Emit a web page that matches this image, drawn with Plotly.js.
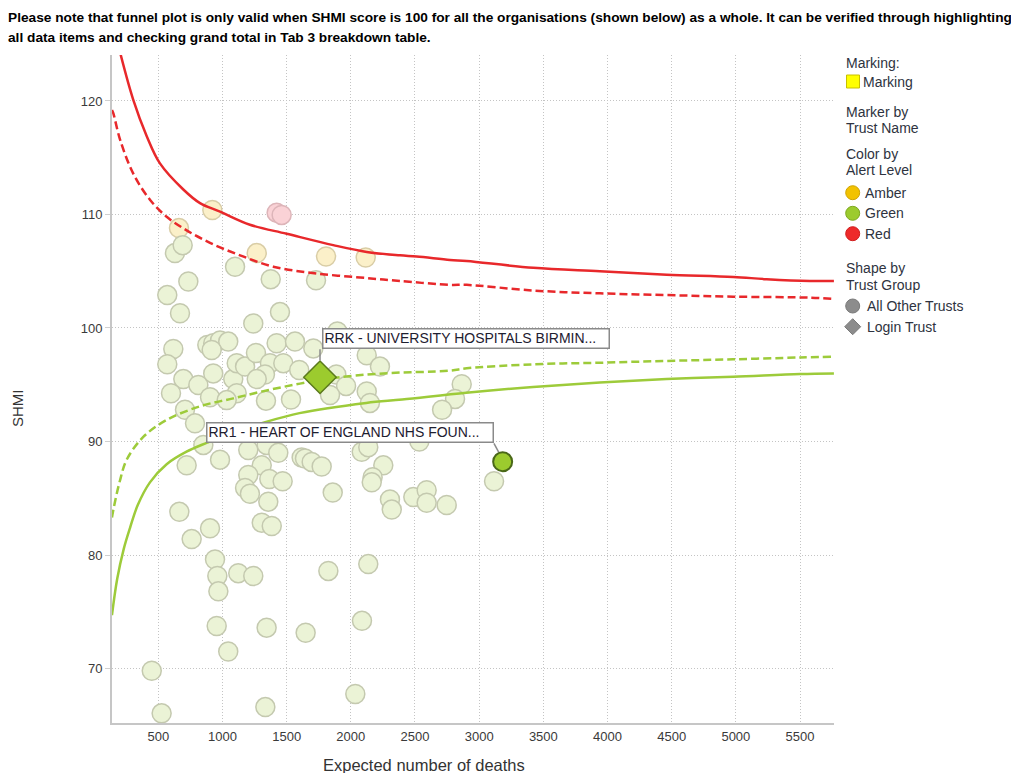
<!DOCTYPE html>
<html><head><meta charset="utf-8">
<script src="https://cdn.plot.ly/plotly-3.0.1.min.js"></script>
<style>html,body{margin:0;padding:0;background:#fff;} #chart{width:1011px;height:773px;}</style>
</head><body><div id="chart"></div>
<script>
// ---- Data ----
const trustE = [921,661,1267,1807,2116, 1422,1461,
 630,690,1098,1376,1729,734,570,669,1448,1240,1895,617,570,882,928,981,1045,916,695,812,928,599,903,
 1084,1111,1176,1261,1370,1422,1565,1474,1331,1598,1267,1111,1339,1534,1033,708,1708,2124,2227,1887,
 1963,1838,2124,2149,2864,2812,2711,786,851,721,981,1201,1344,1435,1306,1617,1201,1365,1469,1176,
 1214,1357,1306,1384,664,903,760,942,960,968,1123,1240,955,1045,1344,1648,1825,2136,2087,449,
 526,1334,2035,2534,2085,2136,1643,1695,1773,2253,2170,2163,1859,2305,2319,2487,2591,2591,2747,3116];
const trustSHMI = [110.4,108.8,106.6,106.3,106.2, 110.16,109.96,
 106.6,107.3,105.4,104.3,104.2,104.1,102.9,101.3,101.4,100.4,99.7,98.15,96.8,98.5,98.65,98.9,98.8,98.06,95.5,94.98,96.0,94.25,93.9,
 95.5,96.9,96.6,97.8,96.9,98.65,98.8,96.9,95.9,96.3,95.5,94.25,93.6,93.7,93.65,92.8,98.2,97.6,96.6,95.9,
 94.9,94.1,94.4,93.4,95.04,93.75,92.8,91.6,89.7,87.9,88.4,89.25,89.7,89.0,87.9,88.6,87.05,86.7,86.5,85.9,
 85.4,84.7,82.85,82.55,83.8,82.35,81.4,79.6,78.15,76.8,78.4,78.15,73.75,71.5,73.6,73.15,78.6,79.2,74.2,69.8,
 66.05,66.6,67.75,90.0,89.1,89.5,88.5,88.2,87.8,87.9,86.85,86.4,85.5,84.9,84.0,85.1,85.7,84.6,84.4,86.5];
const trustAlert = ['Amber','Amber','Amber','Amber','Amber','Red','Red'];
while (trustAlert.length < trustE.length) trustAlert.push('Green');

const loginE = [1760], loginSHMI = [95.66], loginLabel = ['RRK - UNIVERSITY HOSPITALS BIRMIN...'];
const markedE = [3183], markedSHMI = [88.22], markedLabel = ['RR1 - HEART OF ENGLAND NHS FOUN...'];

// control limits
const upper998E = [195,305,410,513,695,825,981,1214,1500,1863,2124,2383,2513,2773,2903,3422,3941,4461,4980,5240,5577,5764];
const upper998S = [124.6,120.1,116.9,114.5,112.2,111.0,110.25,109.1,108.3,107.3,106.7,106.4,106.3,106.0,105.9,105.3,105.0,104.7,104.5,104.3,104.14,104.14];
const upper95E = [139,150,202,305,435,565,721,903,1137,1396,1734,2124,2383,2773,2903,3422,3941,4461,4980,5577,5764];
const upper95S = [119.2,118.9,116.6,113.6,111.3,109.8,108.6,107.5,106.4,105.4,104.8,104.4,104.14,103.8,103.8,103.3,103.05,102.9,102.76,102.67,102.55];
const lower95E = [139,150,200,254,383,565,825,1084,1344,1604,1863,2253,2773,2903,3422,3941,4461,4980,5500,5764];
const lower95S = [83.3,84.0,86.5,88.4,90.4,91.9,93.1,93.8,94.5,95.1,95.6,96.0,96.24,96.45,96.8,96.94,97.1,97.24,97.4,97.47];
const lower998E = [139,180,230,280,340,435,565,720,880,1100,1300,1600,2120,2400,2900,3420,3940,4460,4980,5500,5764];
const lower998S = [74.7,77.9,80.5,82.4,84.4,86.4,88.0,89.1,89.9,90.9,91.6,92.5,93.4,93.7,94.3,94.8,95.2,95.5,95.7,95.95,96.0];

const xTicks = [500,1000,1500,2000,2500,3000,3500,4000,4500,5000,5500];
const yTicks = [70,80,90,100,110,120];

// ---- styling ----
const FONT = 'Liberation Sans, Arial, sans-serif';
const fadedFill = {Amber:'#FBF0C9', Green:'#EBF3D6', Red:'#FAD2D6'};
const fadedLine = {Amber:'#D9CDA6', Green:'#C4C9AF', Red:'#DDB5B9'};
const RED = '#E8282B', GREEN = '#9DCB3A';

const L = 112, R = 177, T = 55, B = 50, W = 1011 - L - R, H = 773 - T - B;
const px = x => (x - L) / W;
const py = y => (773 - B - y) / H;

const traces = [
  {type:'scatter', mode:'markers', x:trustE, y:trustSHMI, hoverinfo:'skip', showlegend:false,
   marker:{size:19, color:trustAlert.map(a=>fadedFill[a]), line:{width:1.5, color:trustAlert.map(a=>fadedLine[a])}}},
  {type:'scatter', mode:'lines', x:upper998E, y:upper998S, line:{color:RED, width:2.5, shape:'spline', smoothing:1}, showlegend:false, hoverinfo:'skip'},
  {type:'scatter', mode:'lines', x:upper95E, y:upper95S, line:{color:RED, width:2.5, dash:'8px,4px', shape:'spline', smoothing:1}, showlegend:false, hoverinfo:'skip'},
  {type:'scatter', mode:'lines', x:lower95E, y:lower95S, line:{color:GREEN, width:2.5, dash:'8px,4px', shape:'spline', smoothing:1}, showlegend:false, hoverinfo:'skip'},
  {type:'scatter', mode:'lines', x:lower998E, y:lower998S, line:{color:GREEN, width:2.5, shape:'spline', smoothing:1}, showlegend:false, hoverinfo:'skip'},
  {type:'scatter', mode:'markers', x:loginE, y:loginSHMI, showlegend:false, hoverinfo:'skip',
   marker:{symbol:'diamond', size:25, color:'#9CCB2E', line:{width:1.5, color:'#5B7A1C'}}},
  {type:'scatter', mode:'markers', x:markedE, y:markedSHMI, showlegend:false, hoverinfo:'skip',
   marker:{size:19, color:'#9CCB2E', line:{width:2, color:'#4A6818'}}}
];

const annotations = [];
const shapes = [];
function txt(text, x, y, size, opts) {
  annotations.push(Object.assign({text:text, xref:'paper', yref:'paper', x:px(x), y:py(y),
    xanchor:'left', yanchor:'middle', showarrow:false, borderpad:0,
    font:{family:FONT, size:size, color:'#333'}}, opts||{}));
}
const TITLEFONT = {family:'Liberation Sans Narrow, Arial Narrow, sans-serif', size:13.7, color:'#000'};
// title lines
txt('<b>Please note that funnel plot is only valid when SHMI score is 100 for all the organisations (shown below) as a whole. It can be verified through highlighting</b>', 7, 18, 13.7, {font:TITLEFONT});
txt('<b>all data items and checking grand total in Tab 3 breakdown table.</b>', 7, 37, 13.7, {font:TITLEFONT});
// axis titles
txt('Expected number of deaths', 424, 765, 16.5, {xanchor:'center', font:{family:FONT, size:16.5, color:'#333'}});
txt('SHMI', 18, 408, 15, {xanchor:'center', textangle:-90, font:{family:FONT, size:15, color:'#333'}});
// legend texts
const legendText = [
  ['Marking:',845,63],['Marking',862,81.7],['Marker by',845,111.7],['Trust Name',845,128.3],
  ['Color by',845,154],['Alert Level',845,170],['Amber',864,192.7],['Green',864,213.3],['Red',864,233.7],
  ['Shape by',845,268.3],['Trust Group',845,285],['All Other Trusts',865.5,306],['Login Trust',866,326.7]
];
legendText.forEach(t => txt(t[0], t[1], t[2], 14, {font:{family:FONT, size:14, color:'#2E3340'}}));

// legend glyphs
shapes.push({type:'rect', xref:'paper', yref:'paper', x0:px(846.5), x1:px(859.5), y0:py(88), y1:py(75),
  fillcolor:'#FFFF00', line:{color:'#C8C000', width:1}});
[['#F2C200','#D0A400',192.7],['#9CCB2E','#7EA820',213.3],['#EE2A2A','#D01C1C',233.7],['#8C8C8C','#7A7A7A',306]].forEach(c => {
  shapes.push({type:'circle', xref:'paper', yref:'paper', xsizemode:'pixel', ysizemode:'pixel',
    xanchor:px(852.7), yanchor:py(c[2]), x0:-7, x1:7, y0:-7, y1:7,
    fillcolor:c[0], line:{color:c[1], width:1}});
});
shapes.push({type:'path', xref:'paper', yref:'paper', xsizemode:'pixel', ysizemode:'pixel',
  xanchor:px(852.7), yanchor:py(326.7), path:'M -8 0 L 0 8 L 8 0 L 0 -8 Z',
  fillcolor:'#8C8C8C', line:{color:'#7A7A7A', width:1}});

// label boxes anchored to the highlighted points
annotations.push({x:loginE[0], y:loginSHMI[0], xref:'x', yref:'y', text:loginLabel[0], showarrow:false,
  xanchor:'left', yanchor:'bottom', xshift:1.7, yshift:27.8, align:'left', width:283, height:15.5,
  bgcolor:'#fff', bordercolor:'#8A8A8A', borderwidth:1.5, borderpad:1,
  font:{family:FONT, size:14, color:'#1E2030'}});
annotations.push({x:markedE[0], y:markedSHMI[0], xref:'x', yref:'y', text:markedLabel[0], showarrow:false,
  xanchor:'right', yanchor:'bottom', xshift:-8.7, yshift:18.4, align:'left', width:283, height:15.5,
  bgcolor:'#fff', bordercolor:'#8A8A8A', borderwidth:1.5, borderpad:1,
  font:{family:FONT, size:14, color:'#1E2030'}});
shapes.push({type:'line', xref:'x', yref:'y', xsizemode:'pixel', ysizemode:'pixel',
  xanchor:loginE[0], yanchor:loginSHMI[0], x0:0, x1:0, y0:17, y1:28, line:{color:'#8A8A8A', width:1.5}});
shapes.push({type:'line', xref:'x', yref:'y', xsizemode:'pixel', ysizemode:'pixel',
  xanchor:markedE[0], yanchor:markedSHMI[0], x0:-8.7, x1:-4, y0:18.4, y1:9.5, line:{color:'#8A8A8A', width:1.5}});

const layout = {
  width:1011, height:773, paper_bgcolor:'#fff', plot_bgcolor:'#fff',
  margin:{l:L, r:R, t:T, b:B, pad:0}, showlegend:false,
  font:{family:FONT, size:13, color:'#333'},
  xaxis:{range:[139.3,5764.7], tickvals:xTicks, ticktext:xTicks.map(String), showgrid:true, gridcolor:'#C4C4C4', griddash:'1px,2px', gridwidth:1,
    zeroline:false, showline:true, linecolor:'#C6C6C6', linewidth:2, ticks:'', tickfont:{family:FONT, size:13, color:'#3A3A3A'}},
  yaxis:{range:[65.2,124.05], tickvals:yTicks, ticktext:yTicks.map(String), showgrid:true, gridcolor:'#C4C4C4', griddash:'1px,2px', gridwidth:1,
    zeroline:false, showline:true, linecolor:'#C6C6C6', linewidth:2, ticks:'outside', ticklen:5, tickcolor:'#D0D0D0',
    tickfont:{family:FONT, size:13, color:'#3A3A3A'}},
  annotations:annotations, shapes:shapes
};
Plotly.newPlot('chart', traces, layout, {displayModeBar:false, staticPlot:true});
</script></body></html>
